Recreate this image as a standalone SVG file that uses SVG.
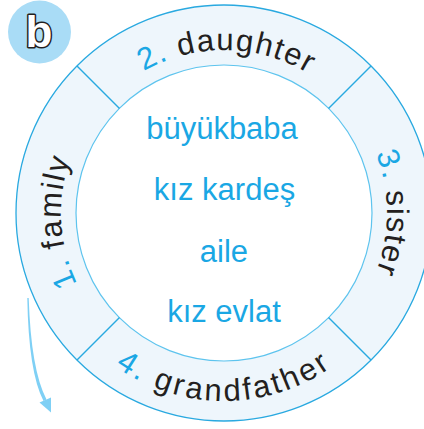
<svg xmlns="http://www.w3.org/2000/svg" width="424" height="429" viewBox="0 0 424 429">
<style>
.ring{font-family:"Liberation Sans",Arial,sans-serif;font-size:31px;fill:#231f20;letter-spacing:1.5px}
.wide{letter-spacing:2.8px}
.num{fill:#1aa7e4}
.word{font-family:"Liberation Sans",Arial,sans-serif;font-size:31px;fill:#1aa7e4;text-anchor:middle}
.div{stroke:#29a9e0;stroke-width:1.5}
</style>
<defs>
<path id="pTop" d="M61,213 A163,163 0 0 1 387,213"/>
<path id="pRight" d="M224,50 A163,163 0 0 1 224,376"/>
<path id="pLeft" d="M224,376 A163,163 0 0 1 224,50"/>
<path id="pBottom" d="M36,213 A188,188 0 0 0 412,213"/>
</defs>
<rect width="424" height="429" fill="#ffffff"/>
<g id="ring">
<path d="M224,5 A208,208 0 1 1 223.9,5 Z M224,65 A148,148 0 1 0 224.1,65 Z" fill="#eef6fc" fill-rule="evenodd"/>
<circle cx="224" cy="213" r="208" fill="none" stroke="#29a9e0" stroke-width="1.3"/>
<circle cx="224" cy="213" r="148" fill="none" stroke="#5ec4ee" stroke-width="1.2"/>
</g>
<g id="dividers">
<line class="div" x1="77" y1="66" x2="119.5" y2="108.5"/>
<line class="div" x1="371" y1="66" x2="328.5" y2="108.5"/>
<line class="div" x1="77" y1="360" x2="119.5" y2="317.5"/>
<line class="div" x1="371" y1="360" x2="328.5" y2="317.5"/>
</g>
<g id="badge">
<circle cx="39.5" cy="32" r="31.5" fill="#a9dcf6"/>
<text x="39" y="47" font-family="Liberation Sans,Arial,sans-serif" font-size="44" font-weight="bold" fill="#ffffff" stroke="#231f20" stroke-width="3" paint-order="stroke" text-anchor="middle" stroke-linejoin="round">b</text>
</g>
<g id="node-2">
<text class="ring" text-anchor="middle"><textPath href="#pTop" startOffset="50.5%"><tspan class="num">2.</tspan> daughter</textPath></text>
</g>
<g id="node-3">
<text class="ring" text-anchor="middle"><textPath href="#pRight" startOffset="50%"><tspan class="num">3.</tspan> sister</textPath></text>
</g>
<g id="node-1">
<text class="ring" text-anchor="middle"><textPath href="#pLeft" startOffset="48.3%"><tspan class="num">1.</tspan> family</textPath></text>
</g>
<g id="node-4">
<text class="ring wide" text-anchor="middle"><textPath href="#pBottom" startOffset="50%"><tspan class="num">4.</tspan> grandfather</textPath></text>
</g>
<g id="words">
<text class="word" x="222" y="139">büyükbaba</text>
<text class="word" x="224.5" y="200">kız kardeş</text>
<text class="word" x="224" y="262">aile</text>
<text class="word" x="224" y="322">kız evlat</text>
</g>
<g id="connectors">
<path d="M27.3,298 Q28.5,372 43.5,401 L46.5,399.5 Q31,370 28.7,298 Z" fill="#7fd0f5"/>
<polygon points="39.5,402.5 51,397.5 51,412.5" fill="#7fd0f5"/>
</g>
</svg>
